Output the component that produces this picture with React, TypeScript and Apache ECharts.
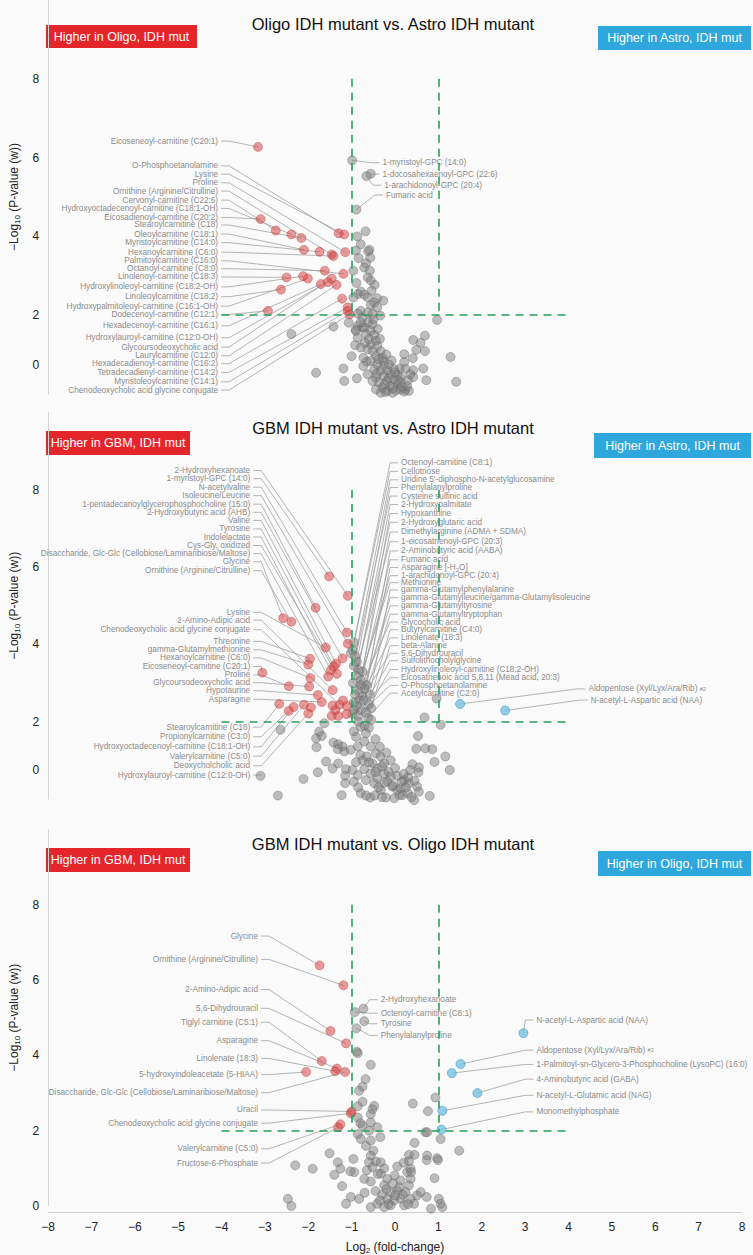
import React, { useEffect, useRef } from 'react';
import * as echarts from 'echarts';

type Pt = [number, number];

// ---------- axes ----------
const X_MIN = -8, X_MAX = 8, X_STEP = 1;
const Y_MIN = 0, Y_MAX = 10, Y_STEP = 2;
const FC_CUT = 1, P_CUT = 2, CUT_TOP = 8, CUT_SPAN = 4;

const TITLES = [
  'Oligo IDH mutant vs. Astro IDH mutant',
  'GBM IDH mutant vs. Astro IDH mutant',
  'GBM IDH mutant vs. Oligo IDH mutant',
];
const LEFT_TAGS = ['Higher in Oligo, IDH mut', 'Higher in GBM, IDH mut', 'Higher in GBM, IDH mut'];
const RIGHT_TAGS = ['Higher in Astro, IDH mut', 'Higher in Astro, IDH mut', 'Higher in Oligo, IDH mut'];

// ---------- panel 1 : Oligo vs Astro ----------
const P1_RED: Pt[] = [
  [-3.16, 6.27], [-1.30, 4.08], [-1.17, 4.05], [-1.15, 3.60], [-1.46, 3.54], [-2.75, 4.15], [-2.39, 4.05],
  [-3.10, 4.44], [-2.16, 3.96], [-2.10, 3.66], [-1.74, 3.61], [-1.42, 3.50], [-1.19, 3.05], [-1.62, 3.13],
  [-2.50, 2.96], [-2.12, 2.99], [-2.63, 2.65], [-2.01, 2.93], [-2.93, 2.11], [-1.71, 2.79], [-1.55, 2.84],
  [-1.46, 2.93], [-1.35, 2.77], [-1.22, 2.42], [-1.09, 2.20], [-1.09, 2.11], [-1.05, 2.02],
];
const P1_RED_NAMES = [
  'Eicoseneoyl-carnitine (C20:1)', 'O-Phosphoetanolamine', 'Lysine', 'Proline', 'Ornithine (Arginine/Citrulline)',
  'Cervonyl-carnitine (C22:6)', 'Hydroxyoctadecenoyl-carnitine (C18:1-OH)', 'Eicosadienoyl-carnitine (C20:2)',
  'Stearoylcarnitine (C18)', 'Oleoylcarnitine (C18:1)', 'Myristoylcarnitine (C14:0)', 'Hexanoylcarnitine (C6:0)',
  'Palmitoylcarnitine (C16:0)', 'Octanoyl-carnitine (C8:0)', 'Linolenoyl-carnitine (C18:3)',
  'Hydroxylinoleoyl-carnitine (C18:2-OH)', 'Linoleoylcarnitine (C18:2)', 'Hydroxypalmitoleoyl-carnitine (C16:1-OH)',
  'Dodecenoyl-carnitine (C12:1)', 'Hexadecenoyl-carnitine (C16:1)', 'Hydroxylauroyl-carnitine (C12:0-OH)',
  'Glycoursodeoxycholic acid', 'Laurylcarnitine (C12:0)', 'Hexadecadienoyl-carnitine (C16:2)',
  'Tetradecadienyl-carnitine (C14:2)', 'Myristoleoylcarnitine (C14:1)', 'Chenodeoxycholic acid glycine conjugate',
];
const P1_GRAY_LABELED: Pt[] = [[-0.99, 5.93], [-0.56, 5.59], [-0.66, 5.53], [-0.89, 4.68]];
const P1_GRAY_NAMES = ['1-myristoyl-GPC (14:0)', '1-docosahexaenoyl-GPC (22:6)', '1-arachidonoyl-GPC (20:4)', 'Fumaric acid'];
const P1_GRAY: Pt[] = [
  [-0.68, 4.13], [-0.87, 4.00], [-0.79, 3.80], [-0.90, 3.64], [-0.59, 3.66], [-0.62, 3.62], [-0.84, 3.45],
  [-0.57, 3.46], [-0.67, 3.32], [-0.71, 3.21], [-0.96, 3.13], [-0.58, 3.13], [-0.63, 2.96], [-0.89, 2.82],
  [-0.56, 2.88], [-0.47, 2.77], [-0.79, 2.60], [-0.85, 2.54], [-0.71, 2.52], [-0.96, 2.45], [-0.54, 2.62],
  [-0.63, 2.45], [-0.41, 2.43], [-0.27, 2.37], [-0.48, 2.32], [-0.56, 2.26], [-0.79, 2.11], [-0.86, 2.04],
  [-0.41, 2.20], [-0.34, 1.99], [-0.52, 2.03], [0.97, 1.88], [-1.07, 1.81], [-0.86, 1.73], [-0.91, 1.63],
  [-0.75, 1.69], [-1.42, 1.71], [-2.39, 1.52], [-1.82, 0.54], [-1.19, 0.65], [-1.17, 0.33], [-0.88, 0.40],
  [-0.92, 1.24], [-1.00, 0.96], [-0.73, 0.92], [-0.65, 0.82], [0.42, 1.37], [0.69, 1.48], [0.59, 1.30],
  [0.49, 1.12], [0.69, 1.09], [0.21, 1.01], [0.41, 0.91], [0.21, 0.81], [0.11, 0.64], [0.24, 0.64],
  [0.42, 0.60], [0.65, 0.65], [0.42, 0.43], [0.72, 0.35], [1.28, 0.94], [1.41, 0.31], [0.13, 0.42],
  [0.24, 0.11], [0.32, 0.08], [-0.75, 1.94], [-0.62, 1.82], [-0.71, 1.69], [-0.52, 1.77], [-0.56, 1.60],
  [-0.67, 1.52], [-0.48, 1.50], [-0.60, 1.39], [-0.44, 1.35], [-0.56, 1.26], [-0.41, 1.22], [-0.33, 1.09],
  [-0.52, 1.09], [-0.63, 1.14], [-0.44, 0.97], [-0.29, 0.92], [-0.56, 0.84], [-0.41, 0.75], [-0.25, 0.71],
  [-0.48, 0.63], [-0.33, 0.59], [-0.18, 0.60], [-0.10, 0.50], [-0.25, 0.46], [-0.44, 0.42], [-0.37, 0.29],
  [-0.18, 0.33], [-0.02, 0.37], [0.05, 0.25], [-0.10, 0.20], [-0.29, 0.16], [-0.18, 0.08], [0.02, 0.09],
  [0.13, 0.12], [0.21, 0.06], [-0.06, 0.03], [-0.33, 0.03], [-0.44, 0.12], [-0.52, 0.33], [-0.63, 0.50],
  [-0.73, 0.71], [-0.79, 1.18], [-0.86, 1.43], [-0.90, 1.60], [-0.79, 1.82], [-0.63, 2.07], [-0.27, 0.84],
  [-0.14, 0.75], [-0.42, 0.52], [0.05, 0.50], [-0.02, 0.63], [-0.24, 0.25], [0.13, 0.29], [0.28, 0.20],
  [-0.50, 1.90], [-0.40, 1.65], [-0.70, 1.30], [-0.35, 1.40], [-0.20, 1.00], [-0.08, 0.85], [-0.38, 0.88],
  [0.00, 0.55], [-0.15, 0.40], [0.08, 0.35], [-0.05, 0.15], [0.15, 0.18], [-0.22, 0.05], [0.30, 0.35], [0.35, 0.50],
];

// ---------- panel 2 : GBM vs Astro ----------
const P2_RED: Pt[] = [
  [-1.52, 5.76], [-1.09, 5.26], [-1.83, 4.95], [-2.58, 4.68], [-2.39, 4.59], [-1.11, 4.31], [-1.09, 4.02],
  [-1.60, 3.92], [-1.21, 3.64], [-1.96, 3.63], [-2.00, 3.48], [-1.36, 3.50], [-1.41, 3.43], [-1.48, 3.33],
  [-1.34, 3.24], [-1.54, 3.17], [-1.95, 3.13], [-3.06, 3.27], [-1.98, 2.91], [-2.45, 2.92], [-1.44, 2.82],
  [-1.78, 2.69], [-1.69, 2.51], [-2.67, 2.46], [-2.10, 2.44], [-1.94, 2.37], [-2.34, 2.38], [-2.45, 2.28],
  [-2.00, 2.21], [-1.44, 2.42], [-1.28, 2.44], [-1.11, 2.41], [-1.46, 2.15], [-1.31, 2.15], [-1.12, 2.20],
  [-1.38, 2.30], [-1.20, 2.55],
];
const P2_LEFT_NAMES = [
  '2-Hydroxyhexanoate', '1-myristoyl-GPC (14:0)', 'N-acetylvaline', 'Isoleucine/Leucine',
  '1-pentadecanoylglycerophosphocholine (15:0)', '2-Hydroxybutyric acid (AHB)', 'Valine', 'Tyrosine',
  'Indolelactate', 'Cys-Gly, oxidized', 'Disaccharide, Glc-Glc (Cellobiose/Laminaribiose/Maltose)', 'Glycine',
  'Ornithine (Arginine/Citrulline)', 'Lysine', '2-Amino-Adipic acid', 'Chenodeoxycholic acid glycine conjugate',
  'Threonine', 'gamma-Glutamylmethionine', 'Hexanoylcarnitine (C6:0)', 'Eicoseneoyl-carnitine (C20:1)', 'Proline',
  'Glycoursodeoxycholic acid', 'Hypotaurine', 'Asparagine', 'Stearoylcarnitine (C18)', 'Propionylcarnitine (C3:0)',
  'Hydroxyoctadecenoyl-carnitine (C18:1-OH)', 'Valerylcarnitine (C5:0)', 'Deoxycholcholic acid',
  'Hydroxylauroyl-carnitine (C12:0-OH)',
];
const P2_LEFT_PTS: Pt[] = [
  [-1.09, 5.26], [-1.52, 5.76], [-1.11, 4.31], [-1.09, 4.02], [-1.83, 4.95], [-1.21, 3.64], [-1.36, 3.50],
  [-1.41, 3.43], [-1.48, 3.33], [-1.34, 3.24], [-1.54, 3.17], [-2.58, 4.68], [-2.39, 4.59], [-1.60, 3.92],
  [-1.44, 2.82], [-1.28, 2.44], [-1.96, 3.63], [-2.00, 3.48], [-1.95, 3.13], [-3.06, 3.27], [-2.45, 2.92],
  [-1.98, 2.91], [-1.78, 2.69], [-1.69, 2.51], [-2.67, 2.46], [-2.45, 2.28], [-2.34, 2.38], [-2.10, 2.44],
  [-2.00, 2.21], [-3.10, 0.60],
];
const P2_RIGHT_NAMES = [
  'Octenoyl-carnitine (C8:1)', 'Cellotriose', "Uridine 5'-diphospho-N-acetylglucosamine", 'Phenylalanylproline',
  'Cysteine sulfinic acid', '2-Hydroxypalmitate', 'Hypoxanthine', '2-Hydroxyglutaric acid',
  'Dimethylarginine (ADMA + SDMA)', '1-eicosatrienoyl-GPC (20:3)', '2-Aminobutyric acid (AABA)', 'Fumaric acid',
  'Asparagine [-H{sub|2}O]', '1-arachidonoyl-GPC (20:4)', 'Methionine', 'gamma-Glutamylphenylalanine',
  'gamma-Glutamylleucine/gamma-Glutamylisoleucine', 'gamma-Glutamyltyrosine', 'gamma-Glutamyltryptophan',
  'Glycocholic acid', 'Butyrylcarnitine (C4:0)', 'Linolenate (18:3)', 'beta-Alanine', '5,6-Dihydrouracil',
  'Sulfolithocholylglycine', 'Hydroxylinoleoyl-carnitine (C18:2-OH)', 'Eicosatrienoic acid 5,8,11 (Mead acid, 20:3)',
  'O-Phosphoetanolamine', 'Acetylcarnitine (C2:0)',
];
const P2_GRAY_LABELED: Pt[] = [
  [-0.95, 4.05], [-0.98, 3.85], [-0.92, 3.70], [-0.88, 3.55], [-0.95, 3.45], [-0.85, 3.35], [-0.75, 3.30],
  [-0.90, 3.20], [-0.79, 3.08], [-0.97, 3.00], [-0.65, 2.95], [-0.80, 2.95], [-0.70, 2.85], [-0.86, 2.82],
  [-0.92, 2.70], [-0.58, 2.70], [-0.75, 2.65], [-0.82, 2.55], [-0.72, 2.55], [-0.95, 2.50], [-0.60, 2.45],
  [-0.88, 2.40], [-0.55, 2.35], [-0.94, 2.31], [-0.78, 2.30], [-0.67, 2.24], [-0.98, 2.20], [-0.85, 2.15],
  [-0.62, 2.10],
];
const P2_BLUE: Pt[] = [[1.50, 2.46], [2.54, 2.29]];
const P2_BLUE_NAMES = ['Aldopentose (Xyl/Lyx/Ara/Rib) {s|#2}', 'N-acetyl-L-Aspartic acid (NAA)'];
const P2_GRAY: Pt[] = [
  [0.96, 2.60], [0.68, 2.11], [1.05, 1.92], [-1.63, 1.96], [-1.75, 1.74], [-1.82, 1.57], [-1.69, 1.63],
  [-2.64, 1.79], [-3.10, 0.60], [-2.11, 0.52], [-2.70, 0.09], [-1.78, 0.69], [-1.81, 1.34], [-1.42, 1.46],
  [-1.31, 1.42], [-1.21, 1.36], [-1.32, 1.29], [-1.17, 1.23], [-1.59, 0.97], [-1.44, 0.79], [-1.31, 0.92],
  [-1.13, 0.77], [-1.15, 0.60], [-1.15, 0.41], [-1.23, 0.10], [-0.79, 0.15], [-0.67, 0.09], [-0.57, 0.04],
  [-0.47, 0.09], [-0.79, 1.87], [-0.60, 1.85], [-0.67, 1.70], [-0.90, 1.61], [-0.71, 1.49], [-0.56, 1.36],
  [-0.86, 1.36], [-1.02, 1.27], [-0.80, 1.14], [-0.65, 1.10], [-0.44, 1.18], [-0.33, 1.10], [-0.25, 0.92],
  [-0.52, 0.92], [-0.41, 0.79], [-0.25, 0.66], [-0.10, 0.58], [-0.18, 0.45], [-0.06, 0.32], [0.05, 0.23],
  [0.17, 0.10], [-0.02, 0.02], [-0.21, 0.04], [-0.33, 0.23], [-0.48, 0.41], [-0.67, 0.49], [-0.86, 0.62],
  [-0.98, 0.75], [-0.71, 0.77], [-0.56, 0.66], [-0.41, 0.54], [-0.25, 0.42], [0.21, 0.49], [0.32, 0.41],
  [0.45, 0.47], [0.51, 0.32], [0.55, 0.19], [0.44, -0.03], [0.53, 1.63], [0.49, 1.30], [0.70, 1.31],
  [0.86, 1.29], [1.16, 1.10], [0.91, 0.96], [1.26, 0.75], [0.40, 0.90], [0.55, 0.82], [0.54, 0.69],
  [0.80, 0.08], [0.30, 0.56], [0.13, 0.28], [-0.45, 1.55], [-0.35, 1.35], [-0.20, 1.20], [-0.10, 1.00],
  [0.00, 0.80], [-0.30, 0.85], [-0.15, 0.70], [0.05, 0.60], [0.15, 0.45], [0.25, 0.30], [-0.05, 0.35],
  [0.10, 0.10], [0.30, 0.15], [0.38, 0.05], [-0.38, 0.30], [-0.45, 0.70], [-0.60, 0.95], [-0.75, 1.00],
  [-0.90, 0.95], [-0.95, 0.45], [-0.85, 0.30], [-0.30, 0.05], [0.20, 0.65], [0.35, 0.75], [-0.55, 2.05],
  [-0.85, 2.00], [-0.70, 1.90], [-0.95, 1.75], [-1.02, 3.77],
];

// ---------- panel 3 : GBM vs Oligo ----------
const P3_RED: Pt[] = [
  [-1.74, 6.39], [-1.19, 5.86], [-1.49, 4.65], [-1.13, 4.32], [-1.69, 3.85], [-1.34, 3.65], [-1.38, 3.58],
  [-2.05, 3.56], [-1.15, 3.56], [-1.00, 2.51], [-1.02, 2.46], [-1.26, 2.17], [-1.31, 2.09],
];
const P3_RED_NAMES = [
  'Glycine', 'Ornithine (Arginine/Citrulline)', '2-Amino-Adipic acid', '5,6-Dihydrouracil', 'Tiglyl carnitine (C5:1)',
  'Asparagine', 'Linolenate (18:3)', '5-hydroxyindoleacetate (5-HIAA)',
  'Disaccharide, Glc-Glc (Cellobiose/Laminaribiose/Maltose)', 'Uracil', 'Chenodeoxycholic acid glycine conjugate',
  'Valerylcarnitine (C5:0)', 'Fructose-6-Phosphate',
];
const P3_GRAY_LABELED: Pt[] = [[-0.73, 5.24], [-0.93, 5.15], [-0.71, 4.91], [-0.89, 4.72]];
const P3_GRAY_NAMES = ['2-Hydroxyhexanoate', 'Octenoyl-carnitine (C8:1)', 'Tyrosine', 'Phenylalanylproline'];
const P3_BLUE: Pt[] = [[2.96, 4.59], [1.51, 3.77], [1.31, 3.53], [1.90, 3.00], [1.09, 2.53], [1.07, 2.03]];
const P3_BLUE_NAMES = [
  'N-acetyl-L-Aspartic acid (NAA)', 'Aldopentose (Xyl/Lyx/Ara/Rib) {s|#2}',
  '1-Palmitoyl-sn-Glycero-3-Phosphocholine (LysoPC) (16:0)', '4-Aminobutyric acid (GABA)',
  'N-acetyl-L-Glutamic acid (NAG)', 'Monomethylphosphate',
];
const P3_GRAY: Pt[] = [
  [-0.88, 4.10], [-0.86, 4.06], [-0.56, 3.75], [-0.68, 3.37], [-0.75, 3.17], [-0.83, 3.06], [-0.75, 2.77],
  [-0.86, 2.65], [-0.48, 2.66], [-0.52, 2.57], [-0.86, 2.35], [-0.56, 2.44], [-0.80, 2.20], [-0.75, 2.13],
  [-0.56, 2.22], [-0.41, 2.09], [-0.60, 2.00], [-0.34, 1.83], [-0.86, 1.91], [-0.79, 1.78], [-0.67, 1.60],
  [-0.56, 1.74], [-0.50, 1.47], [-0.56, 1.34], [-0.44, 1.18], [-0.60, 1.16], [-0.52, 1.03], [-0.33, 1.16],
  [-0.96, 1.25], [-0.94, 0.90], [-0.71, 0.72], [-0.56, 0.65], [-0.33, 0.86], [-0.18, 0.72], [-0.01, 0.81],
  [0.13, 0.68], [0.28, 0.90], [0.36, 0.72], [0.32, 0.55], [0.24, 0.37], [0.05, 0.41], [-0.10, 0.37],
  [-0.18, 0.19], [-0.02, 0.15], [0.13, 0.19], [0.36, 0.19], [0.51, 0.28], [0.44, 0.06], [0.21, 0.02],
  [-0.10, 0.02], [-0.25, -0.03], [-0.41, 0.06], [-0.56, -0.03], [-0.83, 0.19], [-1.02, 0.24], [-1.13, 0.06],
  [-1.51, 1.40], [-1.32, 1.16], [-2.30, 1.08], [-1.90, 0.99], [-1.26, 0.99], [-1.40, 0.83], [-1.03, 0.92],
  [-1.22, 0.53], [-2.47, 0.19], [-2.39, 0.00], [0.41, 2.72], [0.76, 2.52], [0.93, 2.88], [0.70, 1.96],
  [0.74, 1.96], [1.05, 1.78], [0.45, 1.68], [1.48, 1.47], [0.32, 1.36], [0.45, 1.36], [0.74, 1.34],
  [0.97, 1.27], [0.99, 1.22], [0.73, 1.22], [0.32, 1.19], [0.36, 0.99], [0.37, 0.90], [0.91, 0.74],
  [0.59, 0.37], [0.73, 0.24], [1.01, 0.19], [1.05, 0.06], [1.09, -0.03], [0.83, -0.07], [-0.25, 0.55],
  [-0.05, 0.60], [0.10, 0.50], [-0.30, 0.30], [-0.45, 0.40], [0.00, 0.28], [0.18, 0.30], [-0.20, 0.45],
  [-0.40, 0.85], [-0.65, 0.95], [-0.25, 1.00], [0.05, 1.05], [0.20, 1.15], [-0.15, 0.05], [0.30, 0.05],
  [-0.70, 0.35], [-0.35, 0.15],
];

// ---------- layout (positions, not data) ----------
const FONT = "'Liberation Sans', Arial, Helvetica, sans-serif";
const W = 753, H = 1255;
const GRID_LEFT = 41, GRID_W = 701;
const GRIDS = [{ top: 0, height: 394 }, { top: 412.6, height: 386.4 }, { top: 829.5, height: 377.8 }];
const TITLE_Y = [24, 428, 844];
const TAG_L = [[46, 25, 151, 23], [46, 431, 144, 24], [46, 848, 144, 24]];
const TAG_R = [[598, 26, 153, 24], [594, 433, 157, 25], [598, 851, 153, 25]];
const ZERO_SHIFT = [58, 58, 0];

const P1_RED_LY = [6.42, 5.79, 5.58, 5.36, 5.15, 4.92, 4.71, 4.48, 4.29, 4.06, 3.84, 3.60, 3.38, 3.18, 2.97, 2.72, 2.47, 2.23, 2.02, 1.73, 1.43, 1.19, 0.97, 0.77, 0.55, 0.31, 0.10];
const P1_GRAY_LX = [-0.29, -0.29, -0.25, -0.21];
const P1_GRAY_LY = [5.87, 5.58, 5.30, 5.05];
const P2_LEFT_LY = [8.50, 8.29, 8.07, 7.85, 7.63, 7.42, 7.21, 6.99, 6.78, 6.56, 6.35, 6.14, 5.91, 4.83, 4.63, 4.38, 4.08, 3.86, 3.65, 3.43, 3.21, 3.01, 2.80, 2.58, 1.86, 1.61, 1.35, 1.11, 0.86, 0.62];
const P2_RIGHT_LY = [8.70, 8.48, 8.26, 8.06, 7.84, 7.62, 7.39, 7.16, 6.91, 6.66, 6.42, 6.19, 5.99, 5.78, 5.60, 5.41, 5.21, 5.00, 4.78, 4.58, 4.38, 4.17, 3.97, 3.77, 3.58, 3.35, 3.14, 2.94, 2.74];
const P2_BLUE_LX = [4.46, 4.51];
const P2_BLUE_LY = [2.85, 2.56];
const P3_RED_LY = [7.17, 6.55, 5.75, 5.25, 4.88, 4.39, 3.92, 3.49, 3.01, 2.55, 2.20, 1.52, 1.14];
const P3_GRAY_LY = [5.48, 5.12, 4.84, 4.53];
const P3_BLUE_LY = [4.94, 4.14, 3.76, 3.37, 2.94, 2.50];

const LABEL_SIZE = 8.2;
const LABEL_COLOR = '#8b8b8b';
const LINK_COLOR = '#a2a2a2';
const RICH: any = {
  s: { fontSize: 5.5, fill: LABEL_COLOR, color: LABEL_COLOR, fontFamily: FONT },
  sub: { fontSize: 6, fill: LABEL_COLOR, color: LABEL_COLOR, fontFamily: FONT, padding: [4, 0, 0, 0] },
};

type Group = { names: string[]; pts: Pt[]; lx: number | number[]; ly: number[]; side: 'left' | 'right' };

function labelSeries(panel: number, g: Group) {
  return {
    type: 'custom',
    xAxisIndex: panel,
    yAxisIndex: panel,
    silent: true,
    z: 1,
    clip: false,
    data: g.pts.map((p) => [p[0], p[1]]),
    encode: { x: 0, y: 1 },
    renderItem: (params: any, api: any) => {
      const i = params.dataIndex;
      const lxv = Array.isArray(g.lx) ? g.lx[i] : g.lx;
      const p = api.coord(g.pts[i]);
      const l = api.coord([lxv, g.ly[i]]);
      const d = g.side === 'left' ? 1 : -1;
      const al = g.side === 'left' ? 'right' : 'left';
      return {
        type: 'group',
        children: [
          {
            type: 'polyline',
            shape: { points: [[l[0] + 3 * d, l[1]], [l[0] + 11 * d, l[1]], p] },
            style: { stroke: LINK_COLOR, lineWidth: 0.8, fill: 'none' },
          },
          {
            type: 'text',
            x: l[0],
            y: l[1],
            style: {
              text: g.names[i], fill: LABEL_COLOR, fontSize: LABEL_SIZE, fontFamily: FONT,
              align: al, textAlign: al, verticalAlign: 'middle', textVerticalAlign: 'middle', rich: RICH,
            },
          },
        ],
      };
    },
  };
}

const GRAY_STYLE = { color: 'rgba(125,125,125,0.62)', borderColor: 'rgba(95,95,95,0.7)', borderWidth: 0.7 };
const RED_STYLE = { color: 'rgba(215,72,72,0.68)', borderColor: 'rgba(175,55,55,0.7)', borderWidth: 0.7 };
const BLUE_STYLE = { color: 'rgba(112,192,226,0.95)', borderColor: 'rgba(60,150,195,0.9)', borderWidth: 0.8 };

function scatter(panel: number, data: Pt[], style: any, z: number, withCuts: boolean) {
  const s: any = {
    type: 'scatter', xAxisIndex: panel, yAxisIndex: panel, data, symbolSize: 9, clip: false, z,
    itemStyle: style, silent: true,
  };
  if (withCuts) {
    s.markLine = {
      silent: true, symbol: ['none', 'none'], label: { show: false }, animation: false,
      lineStyle: { type: [8, 6], color: '#27a05c', width: 1.6 },
      data: [
        [{ coord: [-FC_CUT, CUT_TOP] }, { coord: [-FC_CUT, P_CUT] }],
        [{ coord: [FC_CUT, CUT_TOP] }, { coord: [FC_CUT, P_CUT] }],
        [{ coord: [-CUT_SPAN, P_CUT] }, { coord: [CUT_SPAN, P_CUT] }],
      ],
    };
  }
  return s;
}

function buildOption() {
  const fmtX = (v: number) => (v < 0 ? '\u2212' + -v : String(v));
  const grid = GRIDS.map((g) => ({ left: GRID_LEFT, width: GRID_W, top: g.top, height: g.height }));
  const xAxis = GRIDS.map((_, i) => ({
    gridIndex: i, type: 'value', min: X_MIN, max: X_MAX, interval: X_STEP,
    show: i === 2, offset: i === 2 ? 6 : 0,
    axisLine: { show: true, onZero: false, lineStyle: { color: '#cfcfcf', width: 1 } },
    axisTick: { show: false }, splitLine: { show: false },
    axisLabel: { formatter: fmtX, color: '#222', fontSize: 12, margin: 9, fontFamily: FONT },
    name: i === 2 ? '{a|Log}{b|2}{a| (fold-change)}' : '',
    nameLocation: 'middle', nameGap: 27,
    nameTextStyle: {
      rich: {
        a: { fontSize: 12, color: '#222', fontFamily: FONT },
        b: { fontSize: 8, color: '#222', fontFamily: FONT, padding: [7, 0, 0, 0] },
      },
    },
  }));
  const yAxis = GRIDS.map((_, i) => ({
    gridIndex: i, type: 'value', min: Y_MIN, max: Y_MAX, interval: Y_STEP,
    axisLine: { show: true, onZero: false, lineStyle: { color: '#d3d3d3', width: 1 } },
    axisTick: { show: false }, splitLine: { show: false },
    axisLabel: {
      color: '#222', fontSize: 12, margin: 9, fontFamily: FONT,
      formatter: (v: number) => (v === Y_MAX ? '' : v === 0 && ZERO_SHIFT[i] ? '{z|0}' : String(v)),
      rich: { z: { fontSize: 12, color: '#222', fontFamily: FONT, padding: [0, 0, ZERO_SHIFT[i], 0] } },
    },
    name: '{a|\u2212Log}{b|10}{a| (P-value (w))}',
    nameLocation: 'middle', nameGap: 21,
    nameTextStyle: {
      rich: {
        a: { fontSize: 12, color: '#222', fontFamily: FONT },
        b: { fontSize: 8, color: '#222', fontFamily: FONT, padding: [7, 0, 0, 0] },
      },
    },
  }));

  const series: any[] = [
    // panel 1
    labelSeries(0, { names: P1_RED_NAMES, pts: P1_RED, lx: -4.08, ly: P1_RED_LY, side: 'left' }),
    labelSeries(0, { names: P1_GRAY_NAMES, pts: P1_GRAY_LABELED, lx: P1_GRAY_LX, ly: P1_GRAY_LY, side: 'right' }),
    scatter(0, [...P1_GRAY_LABELED, ...P1_GRAY], GRAY_STYLE, 2, true),
    scatter(0, P1_RED, RED_STYLE, 3, false),
    // panel 2
    labelSeries(1, { names: P2_LEFT_NAMES, pts: P2_LEFT_PTS, lx: -3.34, ly: P2_LEFT_LY, side: 'left' }),
    labelSeries(1, { names: P2_RIGHT_NAMES, pts: P2_GRAY_LABELED, lx: 0.14, ly: P2_RIGHT_LY, side: 'right' }),
    labelSeries(1, { names: P2_BLUE_NAMES, pts: P2_BLUE, lx: P2_BLUE_LX, ly: P2_BLUE_LY, side: 'right' }),
    scatter(1, [...P2_GRAY_LABELED, ...P2_GRAY], GRAY_STYLE, 2, true),
    scatter(1, P2_RED, RED_STYLE, 3, false),
    scatter(1, P2_BLUE, BLUE_STYLE, 3, false),
    // panel 3
    labelSeries(2, { names: P3_RED_NAMES, pts: P3_RED, lx: -3.16, ly: P3_RED_LY, side: 'left' }),
    labelSeries(2, { names: P3_GRAY_NAMES, pts: P3_GRAY_LABELED, lx: -0.33, ly: P3_GRAY_LY, side: 'right' }),
    labelSeries(2, { names: P3_BLUE_NAMES, pts: P3_BLUE, lx: 3.26, ly: P3_BLUE_LY, side: 'right' }),
    scatter(2, [...P3_GRAY_LABELED, ...P3_GRAY], GRAY_STYLE, 2, true),
    scatter(2, P3_RED, RED_STYLE, 3, false),
    scatter(2, P3_BLUE, BLUE_STYLE, 3, false),
  ];

  const graphic: any[] = [];
  TITLES.forEach((t, i) => {
    graphic.push({
      type: 'text', x: 393, y: TITLE_Y[i], silent: true,
      style: {
        text: t, fontSize: 16.5, fontFamily: FONT, fill: '#111',
        align: 'center', textAlign: 'center', verticalAlign: 'middle', textVerticalAlign: 'middle',
      },
    });
    const boxes: [number[], string, string][] = [
      [TAG_L[i], LEFT_TAGS[i], '#e4252a'],
      [TAG_R[i], RIGHT_TAGS[i], '#2ea7dd'],
    ];
    boxes.forEach(([b, txt, col]) => {
      graphic.push({ type: 'rect', silent: true, shape: { x: b[0], y: b[1], width: b[2], height: b[3] }, style: { fill: col } });
      graphic.push({
        type: 'text', silent: true, x: b[0] + b[2] / 2, y: b[1] + b[3] / 2,
        style: {
          text: txt, fontSize: 12.5, fontFamily: FONT, fill: '#fff',
          align: 'center', textAlign: 'center', verticalAlign: 'middle', textVerticalAlign: 'middle',
        },
      });
    });
  });

  return {
    animation: false,
    backgroundColor: '#fafafa',
    textStyle: { fontFamily: FONT },
    grid, xAxis, yAxis, series, graphic,
  };
}

export default function App() {
  const ref = useRef<HTMLDivElement>(null);
  useEffect(() => {
    if (!ref.current) return;
    const chart = echarts.init(ref.current, null, { renderer: 'svg', width: W, height: H });
    chart.setOption(buildOption() as any);
    return () => chart.dispose();
  }, []);
  return (
    <div
      ref={ref}
      style={{ position: 'fixed', left: 0, top: 0, width: W, height: H, background: '#fafafa' }}
    />
  );
}
